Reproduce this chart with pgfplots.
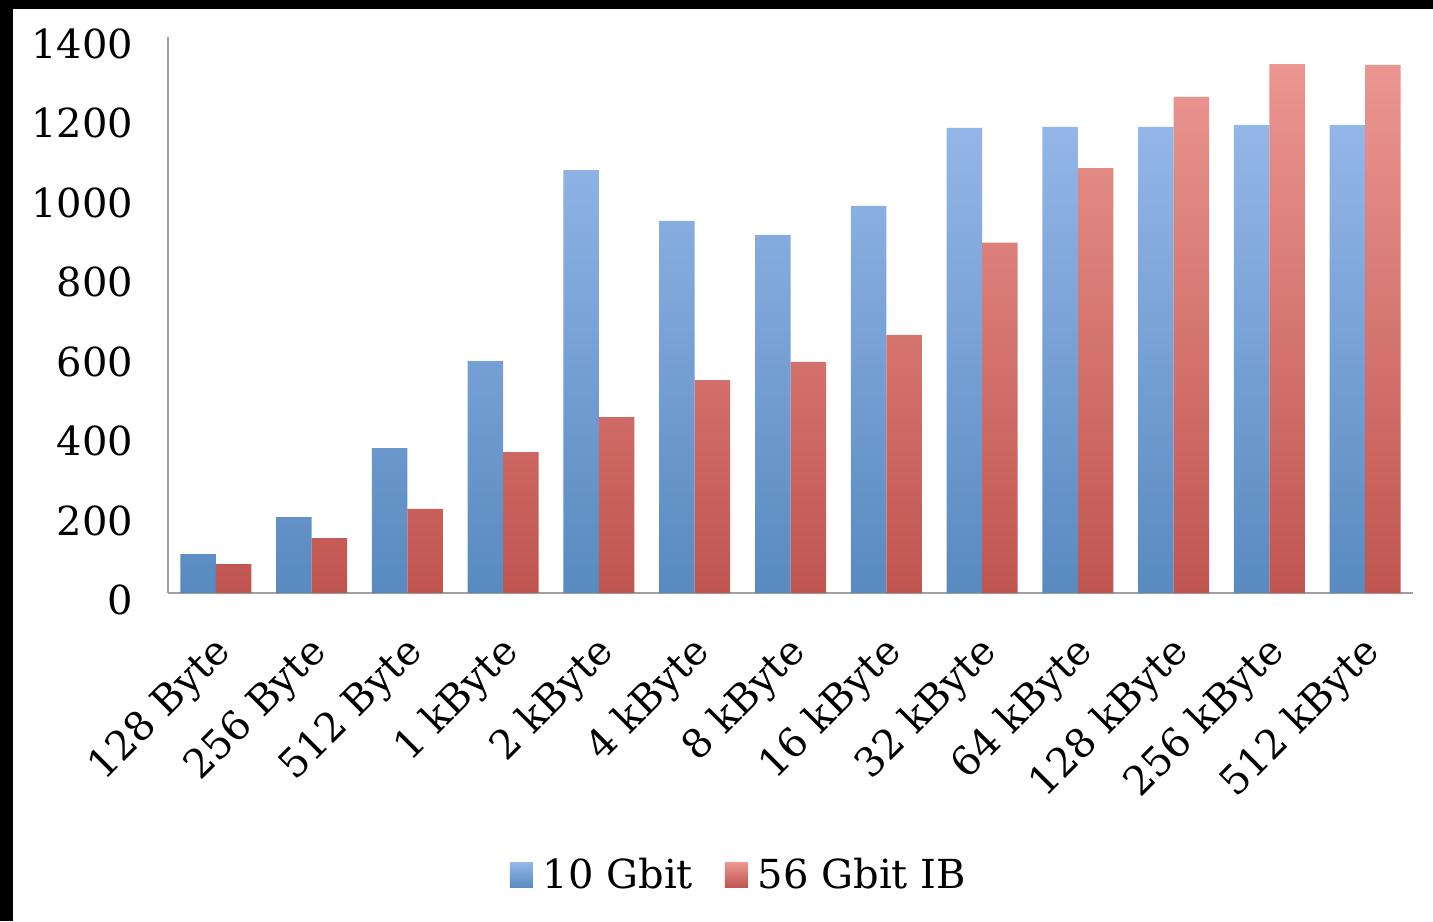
\documentclass[border=0pt]{standalone}
\usepackage{fontspec}
\setmainfont{DejaVu Serif}
\usepackage{pgfplots}
\pgfplotsset{compat=1.18}

\definecolor{blueTop}{RGB}{148,182,232}
\definecolor{blueBot}{RGB}{88,138,192}
\definecolor{redTop}{RGB}{235,150,145}
\definecolor{redBot}{RGB}{192,85,80}
\definecolor{axgray}{RGB}{160,160,160}

\begin{document}
\begin{tikzpicture}
% black frame on top and left, as in the screenshot
\fill[black] (-84pt,-164pt) rectangle (632.5pt,296.5pt);
\fill[white] (-77.5pt,-164pt) rectangle (632.5pt,292pt);
\path[use as bounding box] (-84pt,-164pt) rectangle (632.5pt,296.5pt);
\begin{axis}[
  at={(0,0)}, anchor=south west,
  scale only axis, width=622.5pt, height=278pt,
  ybar=0pt, bar width=17.75pt,
  xmin=-0.5, xmax=12.5, ymin=0, ymax=1400,
  xtick=data,
  xticklabels={128 Byte,256 Byte,512 Byte,1 kByte,2 kByte,4 kByte,8 kByte,16 kByte,32 kByte,64 kByte,128 kByte,256 kByte,512 kByte},
  ytick={0,200,...,1400},
  axis x line*=bottom, axis y line*=left,
  axis line style={draw=axgray, line width=1pt, -},
  major tick length=0pt,
  tick label style={font=\fontsize{20}{24}\selectfont},
  /pgf/number format/assume math mode=true,
  /pgf/number format/1000 sep={},
  yticklabel style={xshift=-14pt, yshift=-3.5pt},
  xticklabel style={xshift=7pt, yshift=-24pt, rotate=45, anchor=east},
  legend style={at={(0.4594,-0.507)}, anchor=center, draw=none, fill=none,
    font=\fontsize{20}{24}\selectfont,
    /tikz/every odd column/.append style={column sep=3pt},
    /tikz/every even column/.append style={column sep=14pt}},
  legend columns=2,
  legend image code/.code={\fill[#1] (0pt,-6.25pt) rectangle (11.5pt,6.25pt);},
]
\addplot[draw=none, top color=blueTop, bottom color=blueBot] coordinates {
  (0,98) (1,191) (2,365) (3,584) (4,1065) (5,937) (6,902)
  (7,975) (8,1171) (9,1174) (10,1174) (11,1179) (12,1179)};
\addplot[draw=none, top color=redTop, bottom color=redBot] coordinates {
  (0,73) (1,138) (2,212) (3,355) (4,443) (5,536) (6,582)
  (7,650) (8,882) (9,1070) (10,1249) (11,1332) (12,1330)};
\legend{10 Gbit, 56 Gbit IB}
\end{axis}
\end{tikzpicture}
\end{document}
